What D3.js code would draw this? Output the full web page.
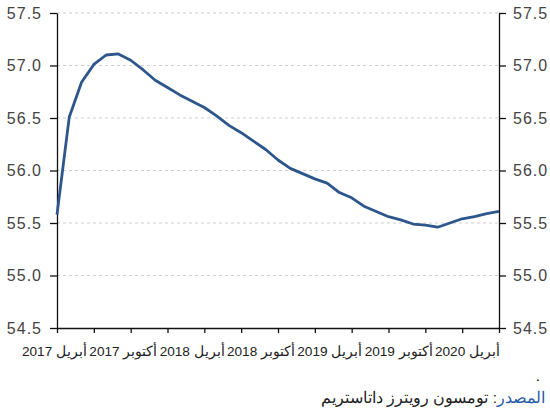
<!DOCTYPE html>
<html>
<head>
<meta charset="utf-8">
<script src="https://cdn.jsdelivr.net/npm/d3@7"></script>
<style>
  body { margin: 0; background: #fff; }
  svg { display: block; font-family: "Liberation Sans", Arial, sans-serif; }
</style>
</head>
<body>
<div id="chart"></div>
<script>
// monthly values, April 2017 .. April 2020
const startMonth = new Date(2017, 3, 1);
const endMonth = new Date(2020, 3, 1);
const values = [
  55.58, 56.51, 56.84, 57.01, 57.10, 57.11, 57.05, 56.96, 56.86, 56.79,
  56.72, 56.66, 56.60, 56.52, 56.43, 56.36, 56.28, 56.20, 56.10, 56.02,
  55.97, 55.92, 55.88, 55.79, 55.74, 55.66, 55.61, 55.56, 55.53, 55.49,
  55.48, 55.46, 55.50, 55.54, 55.56, 55.59, 55.61
];
const yTicks = [54.5, 55.0, 55.5, 56.0, 56.5, 57.0, 57.5];
const xLabels = [
  "أبريل 2017", "أكتوبر 2017", "أبريل 2018", "أكتوبر 2018",
  "أبريل 2019", "أكتوبر 2019", "أبريل 2020"
];
const sourceLabel = "المصدر";
const sourceText = ": تومسون رويترز داتاستريم";

const width = 550, height = 412;
const margin = {left: 57, right: 51, top: 13, bottom: 84};

const months = d3.timeMonth.range(startMonth, d3.timeMonth.offset(endMonth, 1));
const data = months.map((d, i) => ({date: d, value: values[i]}));

const svg = d3.select("#chart").append("svg")
    .attr("width", width)
    .attr("height", height);

const x = d3.scaleLinear()
    .domain([0, months.length - 1])
    .range([margin.left, width - margin.right]);

const y = d3.scaleLinear()
    .domain([54.5, 57.5])
    .range([height - margin.bottom, margin.top]);

// gridlines
svg.append("g")
  .selectAll("line")
  .data(yTicks.filter(d => d > 54.5))
  .enter().append("line")
    .attr("x1", x(0))
    .attr("x2", x(months.length - 1))
    .attr("y1", d => y(d))
    .attr("y2", d => y(d))
    .attr("stroke", "#cfcfcf")
    .attr("stroke-dasharray", "3,3");

// y axes (left + right)
const fmt = d3.format(".1f");
const leftAxis = svg.append("g")
    .attr("transform", `translate(${x(0)},0)`)
    .call(d3.axisLeft(y).tickValues(yTicks).tickFormat(fmt).tickSize(7).tickSizeOuter(0).tickPadding(8));
const rightAxis = svg.append("g")
    .attr("transform", `translate(${x(months.length - 1)},0)`)
    .call(d3.axisRight(y).tickValues(yTicks).tickFormat(fmt).tickSize(7).tickSizeOuter(0).tickPadding(7));

[leftAxis, rightAxis].forEach(g => {
  g.selectAll("text")
    .style("font-size", "16px")
    .style("letter-spacing", "1px")
    .attr("fill", "#444");
  g.selectAll("line, path").attr("stroke", "#111").attr("stroke-width", 1.3);
});

// bottom axis, a tick every 3 months
const bottomAxis = svg.append("g")
    .attr("transform", `translate(0,${y(54.5)})`)
    .call(d3.axisBottom(x).tickValues(d3.range(0, months.length, 3)).tickFormat("").tickSize(5).tickSizeOuter(0));
bottomAxis.selectAll("line, path").attr("stroke", "#111").attr("stroke-width", 1.3);

// x labels: one per 6 months, spread as a single run under the axis
const labelIdx = d3.range(0, months.length, 6);
const lab = svg.append("g")
  .selectAll("text")
  .data(labelIdx)
  .enter().append("text")
    .attr("y", y(54.5) + 28)
    .attr("fill", "#222")
    .style("font-size", "13.6px")
    .text((d, i) => xLabels[i]);

const widths = [];
lab.each(function() { widths.push(this.getComputedTextLength()); });
const runStart = 22, runEnd = 500;
const gap = (runEnd - runStart - d3.sum(widths)) / (widths.length - 1);
let pos = runStart;
lab.attr("x", (d, i) => {
  const p = pos;
  pos += widths[i] + gap;
  return p;
});

// series line
const line = d3.line()
    .x((d, i) => x(i))
    .y(d => y(d.value));

svg.append("path")
    .datum(data)
    .attr("fill", "none")
    .attr("stroke", "#2c568c")
    .attr("stroke-width", 2.8)
    .attr("stroke-linejoin", "round")
    .attr("d", line);

// source note
svg.append("text")
    .attr("x", 540)
    .attr("y", 381)
    .attr("text-anchor", "end")
    .style("font-size", "15px")
    .text(".");

const src = svg.append("text")
    .attr("x", 545)
    .attr("y", 403)
    .attr("text-anchor", "end")
    .style("font-size", "15.5px");
src.append("tspan").attr("fill", "#1f5aa6").text(sourceLabel);
src.append("tspan").attr("fill", "#222").text(sourceText);
</script>
</body>
</html>
